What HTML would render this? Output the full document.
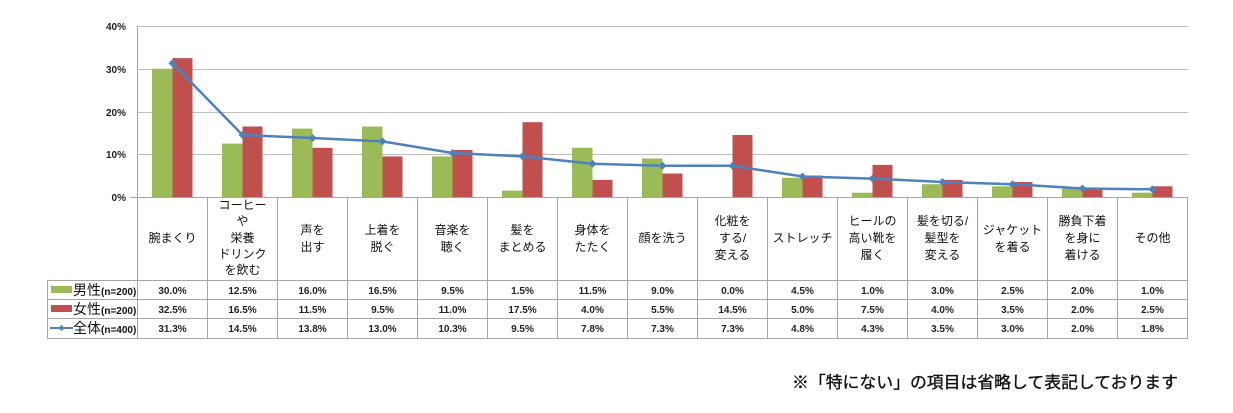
<!DOCTYPE html>
<html><head><meta charset="utf-8"><style>
html,body{margin:0;padding:0;background:#fff}
svg{display:block}
text{font-family:"Liberation Sans","Noto Sans CJK JP",sans-serif}
.t{font-size:10px;font-weight:bold;fill:#222}
.l{font-size:12px;fill:#111}
</style></head><body>
<svg width="1233" height="413" viewBox="0 0 1233 413" xmlns="http://www.w3.org/2000/svg">
<g stroke="#bdbdbd" stroke-width="1">
<line x1="137.5" y1="26.5" x2="1188" y2="26.5"/>
<line x1="137.5" y1="69.5" x2="1188" y2="69.5"/>
<line x1="137.5" y1="112.5" x2="1188" y2="112.5"/>
<line x1="137.5" y1="154.5" x2="1188" y2="154.5"/>
</g>
<g class="t" text-anchor="end">
<text x="126" y="30">40%</text><text x="126" y="73">30%</text><text x="126" y="116">20%</text><text x="126" y="158">10%</text><text x="126" y="201">0%</text>
</g>
<g fill="#9bbb59">
<rect x="152" y="68.75" width="20.5" height="128.25"/><rect x="222" y="143.6" width="20.5" height="53.4"/><rect x="292" y="128.6" width="20.5" height="68.4"/><rect x="362" y="126.5" width="20.5" height="70.5"/><rect x="432" y="156.4" width="20.5" height="40.6"/><rect x="502" y="190.6" width="20.5" height="6.4"/><rect x="572" y="147.8" width="20.5" height="49.2"/><rect x="642" y="158.5" width="20.5" height="38.5"/><rect x="782" y="177.8" width="20.5" height="19.2"/><rect x="852" y="192.7" width="20.5" height="4.3"/><rect x="922" y="184.2" width="20.5" height="12.8"/><rect x="992" y="186.3" width="20.5" height="10.7"/><rect x="1062" y="188.45" width="20.5" height="8.55"/><rect x="1132" y="192.7" width="20.5" height="4.3"/>
</g>
<g fill="#c0504d">
<rect x="172.5" y="58.1" width="20" height="138.9"/><rect x="242.5" y="126.5" width="20" height="70.5"/><rect x="312.5" y="147.8" width="20" height="49.2"/><rect x="382.5" y="156.4" width="20" height="40.6"/><rect x="452.5" y="150" width="20" height="47"/><rect x="522.5" y="122.2" width="20" height="74.8"/><rect x="592.5" y="179.9" width="20" height="17.1"/><rect x="662.5" y="173.5" width="20" height="23.5"/><rect x="732.5" y="135" width="20" height="62"/><rect x="802.5" y="175.6" width="20" height="21.4"/><rect x="872.5" y="164.9" width="20" height="32.1"/><rect x="942.5" y="179.9" width="20" height="17.1"/><rect x="1012.5" y="182" width="20" height="15"/><rect x="1082.5" y="188.45" width="20" height="8.55"/><rect x="1152.5" y="186.3" width="20" height="10.7"/>
</g>
<polyline fill="none" stroke="#4f81bd" stroke-width="2.5" points="172.5,63.2 242.5,135 312.5,138 382.5,141.4 452.5,153 522.5,156.4 592.5,163.7 662.5,165.8 732.5,165.8 802.5,176.5 872.5,178.6 942.5,182 1012.5,184.2 1082.5,188.45 1152.5,189.3"/>
<g fill="#4f81bd">
<path d="M172.5 59.2l4 4-4 4-4-4z"/><path d="M242.5 131l4 4-4 4-4-4z"/><path d="M312.5 134l4 4-4 4-4-4z"/><path d="M382.5 137.4l4 4-4 4-4-4z"/><path d="M452.5 149l4 4-4 4-4-4z"/><path d="M522.5 152.4l4 4-4 4-4-4z"/><path d="M592.5 159.7l4 4-4 4-4-4z"/><path d="M662.5 161.8l4 4-4 4-4-4z"/><path d="M732.5 161.8l4 4-4 4-4-4z"/><path d="M802.5 172.5l4 4-4 4-4-4z"/><path d="M872.5 174.6l4 4-4 4-4-4z"/><path d="M942.5 178l4 4-4 4-4-4z"/><path d="M1012.5 180.2l4 4-4 4-4-4z"/><path d="M1082.5 184.45l4 4-4 4-4-4z"/><path d="M1152.5 185.3l4 4-4 4-4-4z"/>
</g>
<g stroke="#a6a6a6" stroke-width="1" fill="none">
<line x1="130" y1="197.5" x2="1188" y2="197.5"/>
<line x1="47" y1="280.5" x2="1188" y2="280.5"/>
<line x1="47" y1="299.5" x2="1188" y2="299.5"/>
<line x1="47" y1="318.5" x2="1188" y2="318.5"/>
<line x1="47" y1="338.5" x2="1188" y2="338.5"/>
<line x1="47.5" y1="280" x2="47.5" y2="338"/>
<line x1="137.5" y1="26" x2="137.5" y2="338"/>
<line x1="207.5" y1="197" x2="207.5" y2="338"/><line x1="277.5" y1="197" x2="277.5" y2="338"/><line x1="347.5" y1="197" x2="347.5" y2="338"/><line x1="417.5" y1="197" x2="417.5" y2="338"/><line x1="487.5" y1="197" x2="487.5" y2="338"/><line x1="557.5" y1="197" x2="557.5" y2="338"/><line x1="627.5" y1="197" x2="627.5" y2="338"/><line x1="697.5" y1="197" x2="697.5" y2="338"/><line x1="767.5" y1="197" x2="767.5" y2="338"/><line x1="837.5" y1="197" x2="837.5" y2="338"/><line x1="907.5" y1="197" x2="907.5" y2="338"/><line x1="977.5" y1="197" x2="977.5" y2="338"/><line x1="1047.5" y1="197" x2="1047.5" y2="338"/><line x1="1117.5" y1="197" x2="1117.5" y2="338"/><line x1="1187.5" y1="197" x2="1187.5" y2="338"/>
</g>
<g class="l" text-anchor="middle">
<text x="172.5" y="242">腕まくり</text>
<text x="242.5" y="209">コーヒー</text><text x="242.5" y="225">や</text><text x="242.5" y="242">栄養</text><text x="242.5" y="258">ドリンク</text><text x="242.5" y="274">を飲む</text>
<text x="312.5" y="234">声を</text><text x="312.5" y="251">出す</text>
<text x="382.5" y="234">上着を</text><text x="382.5" y="251">脱ぐ</text>
<text x="452.5" y="234">音楽を</text><text x="452.5" y="251">聴く</text>
<text x="522.5" y="234">髪を</text><text x="522.5" y="251">まとめる</text>
<text x="592.5" y="234">身体を</text><text x="592.5" y="251">たたく</text>
<text x="662.5" y="242">顔を洗う</text>
<text x="732.5" y="225">化粧を</text><text x="732.5" y="242">する/</text><text x="732.5" y="259">変える</text>
<text x="802.5" y="242">ストレッチ</text>
<text x="872.5" y="225">ヒールの</text><text x="872.5" y="242">高い靴を</text><text x="872.5" y="259">履く</text>
<text x="942.5" y="225">髪を切る/</text><text x="942.5" y="242">髪型を</text><text x="942.5" y="259">変える</text>
<text x="1012.5" y="234">ジャケット</text><text x="1012.5" y="251">を着る</text>
<text x="1082.5" y="225">勝負下着</text><text x="1082.5" y="242">を身に</text><text x="1082.5" y="259">着ける</text>
<text x="1152.5" y="242">その他</text>
</g>
<g class="t" text-anchor="middle">
<text x="172.5" y="294">30.0%</text><text x="242.5" y="294">12.5%</text><text x="312.5" y="294">16.0%</text><text x="382.5" y="294">16.5%</text><text x="452.5" y="294">9.5%</text><text x="522.5" y="294">1.5%</text><text x="592.5" y="294">11.5%</text><text x="662.5" y="294">9.0%</text><text x="732.5" y="294">0.0%</text><text x="802.5" y="294">4.5%</text><text x="872.5" y="294">1.0%</text><text x="942.5" y="294">3.0%</text><text x="1012.5" y="294">2.5%</text><text x="1082.5" y="294">2.0%</text><text x="1152.5" y="294">1.0%</text>
<text x="172.5" y="313">32.5%</text><text x="242.5" y="313">16.5%</text><text x="312.5" y="313">11.5%</text><text x="382.5" y="313">9.5%</text><text x="452.5" y="313">11.0%</text><text x="522.5" y="313">17.5%</text><text x="592.5" y="313">4.0%</text><text x="662.5" y="313">5.5%</text><text x="732.5" y="313">14.5%</text><text x="802.5" y="313">5.0%</text><text x="872.5" y="313">7.5%</text><text x="942.5" y="313">4.0%</text><text x="1012.5" y="313">3.5%</text><text x="1082.5" y="313">2.0%</text><text x="1152.5" y="313">2.5%</text>
<text x="172.5" y="332">31.3%</text><text x="242.5" y="332">14.5%</text><text x="312.5" y="332">13.8%</text><text x="382.5" y="332">13.0%</text><text x="452.5" y="332">10.3%</text><text x="522.5" y="332">9.5%</text><text x="592.5" y="332">7.8%</text><text x="662.5" y="332">7.3%</text><text x="732.5" y="332">7.3%</text><text x="802.5" y="332">4.8%</text><text x="872.5" y="332">4.3%</text><text x="942.5" y="332">3.5%</text><text x="1012.5" y="332">3.0%</text><text x="1082.5" y="332">2.0%</text><text x="1152.5" y="332">1.8%</text>
</g>
<rect x="51" y="286" width="21" height="7" fill="#9bbb59"/>
<rect x="51" y="305" width="21" height="7" fill="#c0504d"/>
<line x1="50" y1="328" x2="73" y2="328" stroke="#4f81bd" stroke-width="2"/>
<path d="M61.5 325l3 3-3 3-3-3z" fill="#4f81bd"/>
<g fill="#111">
<text x="73" y="295" style="font-size:14px">男性<tspan style="font-size:10px;font-weight:bold">(n=200)</tspan></text>
<text x="73" y="314" style="font-size:14px">女性<tspan style="font-size:10px;font-weight:bold">(n=200)</tspan></text>
<text x="73" y="333" style="font-size:14px">全体<tspan style="font-size:10px;font-weight:bold">(n=400)</tspan></text>
</g>
<text x="792" y="388" textLength="386" lengthAdjust="spacingAndGlyphs" style="font-size:16.5px;fill:#111;stroke:#111;stroke-width:0.35">※「特にない」の項目は省略して表記しております</text>
</svg>
</body></html>
